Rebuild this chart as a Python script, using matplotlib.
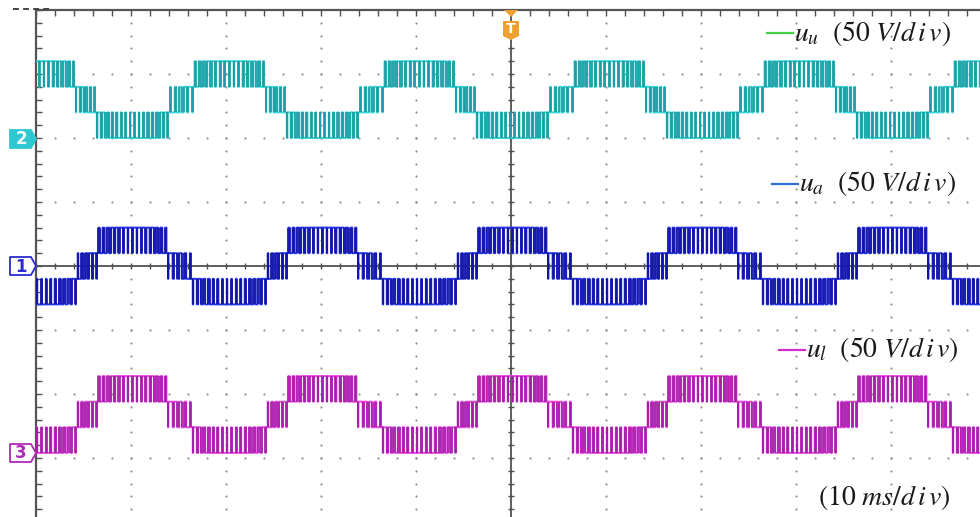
import numpy as np
import matplotlib
matplotlib.use("Agg")
import matplotlib.pyplot as plt
from matplotlib.patches import Polygon
from matplotlib import markers

plt.rcParams["mathtext.fontset"] = "stix"

# ---- time base (ms) and vertical scale (V) ----
period_ms = 20.0
t_span = (0.0, 100.0)          # 10 ms/div, 10 divisions
v_span = (-200.0, 200.0)       # 50 V/div, 8 divisions

# one fundamental period of the upper-arm band sequence
seg_start = [-3.5, 4.2, 6.4, 13.9]
seg_end = [4.2, 6.4, 13.9, 16.5]
band_u = [2, 1, 0, 1]          # 0 = lowest band of the arm
# duty (share of time at the upper level of the band) of each switching pulse
duty_u = [
    [0.22, 0.40, 0.55, 0.65, 0.73, 0.80, 0.86, 0.90, 0.90, 0.86, 0.80, 0.73,
     0.65, 0.55, 0.40, 0.22],
    [0.85, 0.65, 0.45, 0.30, 0.15],
    [0.72, 0.58, 0.45, 0.35, 0.27, 0.20, 0.14, 0.10, 0.10, 0.14, 0.20, 0.27,
     0.35, 0.45, 0.58, 0.72],
    [0.15, 0.30, 0.45, 0.65, 0.85],
]
band_a = [2 - b for b in band_u]
duty_a = [[1 - d for d in row] for row in duty_u]

level_step = 20.0              # V per level
base_u = 100.0                 # channel 2 ground
base_a = -30.0                 # channel 1 lowest level
base_l = -146.0                # channel 3 ground

col_u, col_u_edge = "#36d2d4", "#1c9aa2"
col_a, col_a_edge = "#2434e0", "#1414a4"
col_l, col_l_edge = "#e046e0", "#a41ca8"


def arm_wave(bands, duties, base):
    t_pts, v_pts = [], []
    for k in range(-1, 6):
        t0 = k * period_ms
        for s, e, b, dl in zip(seg_start, seg_end, bands, duties):
            a, z = t0 + s, t0 + e
            w = (z - a) / len(dl)
            lo = base + level_step * b
            hi = lo + level_step
            for i, d in enumerate(dl):
                ts = a + i * w
                t_pts += [ts, ts + (1 - d) / 2 * w, ts + (1 + d) / 2 * w]
                v_pts += [lo, hi, lo]
    return np.array(t_pts), np.array(v_pts)


W, H = 980, 517
fig = plt.figure(figsize=(W / 100, H / 100), dpi=100)
fig.patch.set_facecolor("white")

ax = fig.add_axes([36 / W, -5 / H, 950 / W, 512 / H])
ax.set_xlim(*t_span)
ax.set_ylim(*v_span)
ax.set_facecolor("white")
ax.set_xticks([])
ax.set_yticks([])
for side in ("bottom", "right"):
    ax.spines[side].set_visible(False)
for side in ("left", "top"):
    ax.spines[side].set_color("#555555")
    ax.spines[side].set_linewidth(1.6)

# dotted graticule
minor_t = np.arange(0, 100.01, 2.0)
minor_v = np.arange(-200, 200.01, 10.0)
for xm in [10, 20, 30, 40, 60, 70, 80, 90]:
    ax.scatter(np.full_like(minor_v, xm), minor_v, s=2.6, color="#959595",
               linewidths=0, zorder=1)
for ym in [-150, -100, -50, 50, 100, 150]:
    ax.scatter(minor_t, np.full_like(minor_t, ym), s=2.6, color="#959595",
               linewidths=0, zorder=1)

# centre axes with ticks
ax.axhline(0, color="#505050", lw=1.3, zorder=2)
ax.axvline(50, color="#505050", lw=1.3, zorder=2)
ax.plot(minor_t, np.zeros_like(minor_t), ls="none", marker="|", ms=5,
        mew=1.0, color="#505050", zorder=2)
ax.plot(np.full_like(minor_v, 50), minor_v, ls="none", marker="_", ms=5,
        mew=1.0, color="#505050", zorder=2)
ax.plot(np.zeros_like(minor_v), minor_v, ls="none", marker=markers.TICKRIGHT,
        ms=4, mew=1.0, color="#505050", zorder=2, clip_on=False)
ax.plot(minor_t, np.full_like(minor_t, 200), ls="none", marker=markers.TICKDOWN,
        ms=4, mew=1.0, color="#505050", zorder=2, clip_on=False)

# traces
for bands, duties, base, c, ce in [
    (band_u, duty_u, base_u, col_u, col_u_edge),
    (band_a, duty_a, base_a, col_a, col_a_edge),
    (band_a, duty_a, base_l, col_l, col_l_edge),
]:
    t, v = arm_wave(bands, duties, base)
    ax.plot(t, v, drawstyle="steps-post", color=c, lw=1.4, zorder=3)
    jump = np.nonzero(np.diff(v))[0] + 1
    ax.vlines(t[jump], np.minimum(v[jump], v[jump - 1]),
              np.maximum(v[jump], v[jump - 1]), color=ce, lw=1.1, zorder=4)

# ---- overlay in pixel coordinates ----
ov = fig.add_axes([0, 0, 1, 1], zorder=5)
ov.set_xlim(0, W)
ov.set_ylim(H, 0)
ov.axis("off")
ov.patch.set_alpha(0)

# dashed mark above the top-left corner
ov.plot([13, 50], [8.5, 8.5], color="#444444", lw=1.4, ls=(0, (3, 2.2)))


def channel_tag(yc, label, edge, fill, txt):
    pts = [(10, yc - 9), (31, yc - 9), (36, yc), (31, yc + 9), (10, yc + 9)]
    ov.add_patch(Polygon(pts, closed=True, facecolor=fill, edgecolor=edge,
                         lw=1.3, joinstyle="round"))
    ov.text(21, yc + 0.5, label, color=txt, ha="center", va="center",
            fontsize=12, fontweight="bold", family="DejaVu Sans")


channel_tag(139, "2", "#2ec8d2", "#2ec8d2", "white")
channel_tag(266, "1", "#2b2bd0", "white", "#2b2bd0")
channel_tag(453, "3", "#b02ab8", "white", "#b02ab8")

# trigger marker
ov.add_patch(Polygon([(504, 10), (518, 10), (511, 17)], closed=True,
                     facecolor="#f0a030", edgecolor="none"))
ov.add_patch(Polygon([(503, 21), (519, 21), (519, 36), (511, 40), (503, 36)],
                     closed=True, facecolor="#f0a030", edgecolor="none"))
ov.text(511, 29, "T", color="white", ha="center", va="center",
        fontsize=10, fontweight="bold")

# legend entries: (line start, line end, row y, colour, name)
legend_rows = [
    (767, 793, 33, "#44d044", "u"),
    (772, 798, 184, "#2f6fd0", "a"),
    (779, 805, 350, "#d030d0", "l"),
]
for x0, x1, yy, c, sub in legend_rows:
    ov.plot([x0, x1], [yy, yy], color=c, lw=1.6)
    ov.text(x1 + 1, yy, r"$u_{%s}\ \ (50\ V/d\,i\,v)$" % sub, ha="left",
            va="center", fontsize=20, color="#1a1a1a")
ov.text(818, 498, r"$(10\ ms/d\,i\,v)$", ha="left", va="center", fontsize=20,
        color="#1a1a1a")

fig.savefig("out.png", dpi=100, facecolor="white")
